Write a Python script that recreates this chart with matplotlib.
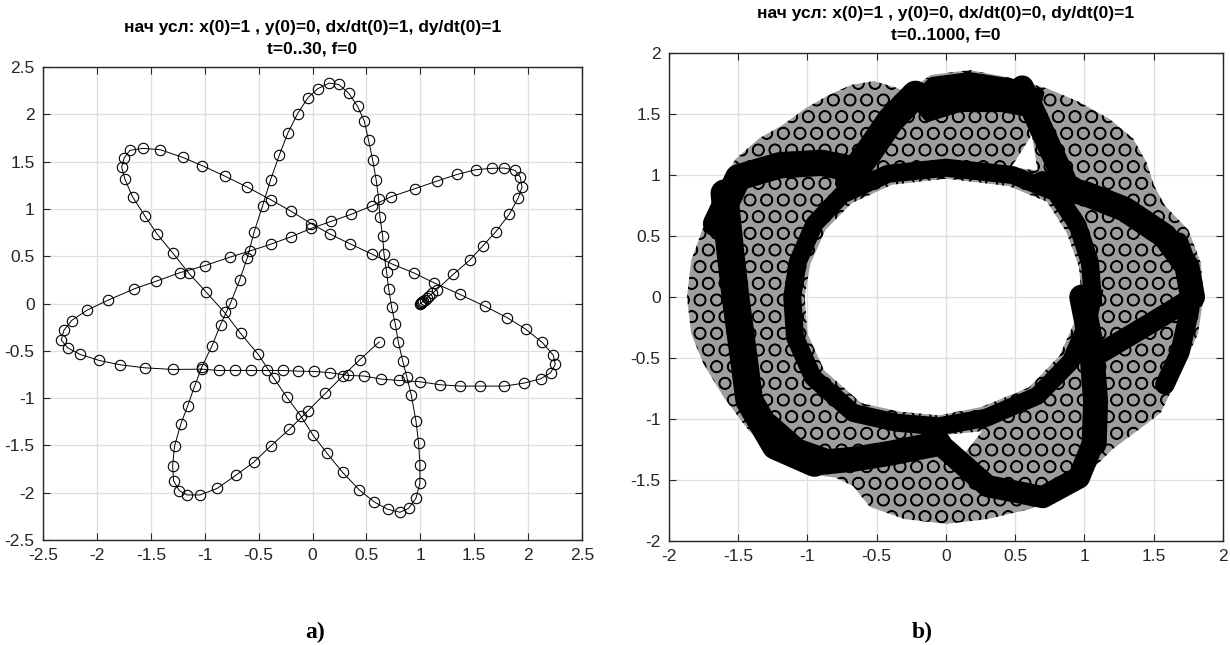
import numpy as np
import matplotlib
matplotlib.use("Agg")
import matplotlib.pyplot as plt
from matplotlib.path import Path
from matplotlib.patches import PathPatch, Polygon

plt.rcParams['font.family'] = ['Liberation Sans Narrow', 'Liberation Sans', 'DejaVu Sans']
plt.rcParams['axes.unicode_minus'] = False
plt.rcParams['hatch.linewidth'] = 1.0

# ---- panel a: points (t=0..30) ----
xa = [1.000, 1.002, 1.005, 1.010, 1.017, 1.027, 1.040, 1.058, 1.082, 1.112, 1.150,
      1.306, 1.457, 1.581, 1.701, 1.825, 1.909, 1.943, 1.927, 1.878, 1.776, 1.664,
      1.516, 1.343, 1.157, 0.950, 0.730, 0.548, 0.359, 0.174, -0.010,
      -0.203, -0.389, -0.578, -0.769, -0.998, -1.227, -1.450, -1.654, -1.898, -2.093,
      -2.235, -2.306, -2.331, -2.272, -2.155, -1.978, -1.784, -1.555, -1.298, -1.026,
      -0.871, -0.723, -0.575, -0.423, -0.275, -0.139, 0.013, 0.165, 0.325, 0.480,
      0.635, 0.798, 0.996, 1.185, 1.367, 1.550, 1.779, 1.964, 2.116, 2.208, 2.252,
      2.233, 2.131, 1.977, 1.803, 1.596, 1.364, 1.129, 0.938, 0.743, 0.548, 0.350,
      0.165, -0.012, -0.203, -0.389, -0.609, -0.816, -1.023, -1.205, -1.413, -1.576,
      -1.694, -1.747, -1.771, -1.740, -1.669, -1.555, -1.440, -1.298, -1.150, -0.989,
      -0.816, -0.667, -0.503, -0.361, -0.241, -0.108, 0.001, 0.130, 0.279, 0.434,
      0.573, 0.696, 0.811, 0.891, 0.959, 0.996, 0.996, 0.984, 0.959, 0.916, 0.876,
      0.836, 0.795, 0.768, 0.734, 0.706, 0.687, 0.662, 0.650, 0.625, 0.613, 0.591,
      0.557, 0.520, 0.480, 0.418, 0.335, 0.242, 0.155, 0.047, -0.043, -0.139, -0.228,
      -0.309, -0.389, -0.463, -0.541, -0.605, -0.677, -0.760, -0.853, -0.933, -1.026,
      -1.094, -1.159, -1.221, -1.280, -1.298, -1.289, -1.236, -1.162, -1.045, -0.884,
      -0.708, -0.547, -0.389, -0.216, -0.043, 0.118, 0.279, 0.440, 0.619]
ya = [0.000, 0.002, 0.005, 0.010, 0.017, 0.027, 0.040, 0.058, 0.080, 0.108, 0.145,
      0.309, 0.457, 0.612, 0.760, 0.943, 1.119, 1.232, 1.337, 1.408, 1.432, 1.429,
      1.415, 1.365, 1.295, 1.214, 1.130, 1.031, 0.943, 0.869, 0.795,
      0.704, 0.626, 0.556, 0.489, 0.401, 0.327, 0.236, 0.155, 0.035, -0.071,
      -0.180, -0.282, -0.387, -0.468, -0.539, -0.602, -0.648, -0.680, -0.697, -0.694,
      -0.708, -0.708, -0.708, -0.708, -0.708, -0.715, -0.718, -0.732, -0.760, -0.767,
      -0.799, -0.813, -0.827, -0.859, -0.873, -0.873, -0.873, -0.841, -0.796, -0.732, -0.644,
      -0.546, -0.412, -0.271, -0.148, -0.028, 0.098, 0.218, 0.324, 0.415, 0.524, 0.630,
      0.732, 0.844, 0.978, 1.098, 1.232, 1.348, 1.457, 1.545, 1.626, 1.640,
      1.619, 1.541, 1.443, 1.313, 1.126, 0.925, 0.732, 0.535, 0.324, 0.123,
      -0.095, -0.317, -0.539, -0.785, -0.986, -1.190, -1.387, -1.577, -1.785, -1.971,
      -2.098, -2.175, -2.207, -2.165, -2.059, -1.901, -1.707, -1.479, -1.239, -0.968, -0.782,
      -0.606, -0.405, -0.218, -0.042, 0.158, 0.334, 0.528, 0.718, 0.915, 1.105, 1.302,
      1.520, 1.724, 1.929, 2.083, 2.224, 2.316, 2.330, 2.270, 2.175, 2.006, 1.805,
      1.566, 1.309, 1.035, 0.760, 0.485, 0.246, 0.007, -0.222, -0.447, -0.669,
      -0.873, -1.084, -1.271, -1.507, -1.718, -1.876, -1.978, -2.024, -2.024, -1.954,
      -1.813, -1.679, -1.507, -1.331, -1.134, -0.951, -0.768, -0.592, -0.405]

# ---- panel b (t=0..1000): too many points to read one by one, so the outline of the
# covered ring, the dark (overlapping) bands and the small empty gaps are read instead ----
outer_b = [(1.86, 0.0), (1.84, 0.28), (1.75, 0.55), (1.58, 0.75), (1.5, 0.92), (1.45, 1.1),
           (1.35, 1.3), (1.18, 1.46), (0.96, 1.6), (0.73, 1.71), (0.45, 1.8), (0.17, 1.86),
           (-0.11, 1.82), (-0.28, 1.68), (-0.37, 1.72), (-0.52, 1.77), (-0.68, 1.74),
           (-0.84, 1.66), (-1.01, 1.55), (-1.18, 1.41), (-1.35, 1.3), (-1.52, 1.13),
           (-1.66, 0.86), (-1.75, 0.58), (-1.84, 0.3), (-1.87, 0.0), (-1.84, -0.3),
           (-1.75, -0.55), (-1.6, -0.83), (-1.42, -1.1), (-1.2, -1.33), (-1.0, -1.45),
           (-0.8, -1.48), (-0.67, -1.55), (-0.55, -1.72), (-0.3, -1.82), (0.0, -1.86),
           (0.3, -1.82), (0.6, -1.74), (0.88, -1.62), (1.05, -1.42), (1.2, -1.25),
           (1.4, -1.08), (1.55, -0.95), (1.7, -0.6), (1.82, -0.3)]
hole_b = [(0.98, 0.0), (0.96, 0.25), (0.87, 0.53), (0.73, 0.78), (0.45, 0.91), (0.0, 0.97),
          (-0.39, 0.92), (-0.68, 0.77), (-0.87, 0.55), (-0.98, 0.27), (-1.02, 0.0),
          (-1.0, -0.3), (-0.88, -0.6), (-0.61, -0.87), (-0.33, -0.94), (-0.05, -0.97),
          (0.26, -0.9), (0.6, -0.74), (0.82, -0.48), (0.93, -0.2)]
hole_rim = [(1.06, 0.0), (1.04, 0.28), (0.95, 0.59), (0.79, 0.86), (0.48, 1.0), (0.0, 1.06),
            (-0.42, 1.01), (-0.75, 0.84), (-0.95, 0.6), (-1.07, 0.29), (-1.11, 0.0),
            (-1.09, -0.33), (-0.96, -0.66), (-0.67, -0.95), (-0.36, -1.03), (-0.05, -1.06),
            (0.29, -0.99), (0.66, -0.81), (0.9, -0.53), (1.02, -0.22), (1.06, 0.0)]
top_cap = [(-0.24, 1.62), (-0.1, 1.77), (0.17, 1.81), (0.45, 1.76), (0.68, 1.67), (0.64, 1.5),
           (0.4, 1.55), (0.1, 1.55), (-0.13, 1.47)]
low_left_cap = [(-1.42, -0.9), (-1.37, -1.08), (-1.18, -1.29), (-1.0, -1.4), (-0.85, -1.42),
                (-0.85, -1.28), (-1.05, -1.2), (-1.25, -1.0)]
band_left_top = [(-1.66, 0.6), (-1.5, 0.98), (-1.2, 1.08), (-0.9, 1.1), (-0.68, 1.05)]
band_top_left = [(-0.7, 0.97), (-0.55, 1.2), (-0.4, 1.45), (-0.22, 1.66)]
band_top_right = [(0.55, 1.72), (0.66, 1.45), (0.76, 1.2), (0.86, 0.95)]
band_right_up = [(0.7, 0.93), (1.0, 0.85), (1.29, 0.72), (1.58, 0.5), (1.74, 0.25), (1.78, 0.0)]
band_right_edge = [(1.68, 0.45), (1.76, 0.2), (1.76, -0.1), (1.69, -0.45), (1.58, -0.72)]
band_left = [(-1.6, 0.85), (-1.56, 0.4), (-1.52, 0.0), (-1.46, -0.5), (-1.42, -0.85),
             (-1.23, -1.22), (-0.95, -1.36)]
band_bottom_left = [(-0.95, -1.36), (-0.67, -1.33), (-0.4, -1.28), (-0.05, -1.2)]
band_bottom = [(-0.05, -1.2), (0.3, -1.55), (0.7, -1.64), (0.96, -1.48), (1.06, -1.2)]
band_right_down = [(0.98, 0.0), (1.05, -0.4), (1.08, -0.85), (1.07, -1.2)]
band_right_low = [(1.1, -0.47), (1.5, -0.2), (1.76, -0.02)]
gap_top = [(0.47, 1.06), (0.66, 1.04), (0.62, 1.33)]
gap_bottom = [(0.0, -1.13), (0.26, -1.1), (0.12, -1.3)]

title_a = 'нач усл: x(0)=1 , y(0)=0, dx/dt(0)=1, dy/dt(0)=1\nt=0..30, f=0'
title_b = 'нач усл: x(0)=1 , y(0)=0, dx/dt(0)=0, dy/dt(0)=1\nt=0..1000, f=0'

INK = '#262626'


def style(ax, lim, step):
    ticks = np.arange(-lim, lim + step / 2, step)
    ax.set_xlim(-lim, lim)
    ax.set_ylim(-lim, lim)
    ax.set_xticks(ticks)
    ax.set_yticks(ticks)
    ax.set_xticklabels(['%g' % t for t in ticks])
    ax.set_yticklabels(['%g' % t for t in ticks])
    ax.grid(True, color='#dedede', lw=0.9)
    ax.set_axisbelow(True)
    ax.tick_params(direction='in', top=True, right=True, length=5, width=0.8,
                   color=INK, labelcolor=INK, labelsize=12.5, pad=6)
    for s in ax.spines.values():
        s.set_color(INK)
        s.set_linewidth(1.0)


fig = plt.figure(figsize=(12.3, 6.45), dpi=100)
ax1 = fig.add_axes([0.035, 0.1628, 0.4382, 0.7333])
ax2 = fig.add_axes([0.5439, 0.1612, 0.4504, 0.7566])

ax1.plot(xa, ya, '-o', color='k', lw=0.7, ms=7.5, mfc='none', mew=0.8)
style(ax1, 2.5, 0.5)
ax1.set_title(title_a, fontsize=12.5, fontweight='bold', linespacing=1.5, pad=10)

verts = outer_b + [outer_b[0]] + hole_b[::-1] + [hole_b[-1]]
codes = ([Path.MOVETO] + [Path.LINETO] * (len(outer_b) - 1) + [Path.CLOSEPOLY]
         + [Path.MOVETO] + [Path.LINETO] * (len(hole_b) - 1) + [Path.CLOSEPOLY])
ax2.add_patch(PathPatch(Path(verts, codes), facecolor='#9e9e9e', edgecolor='k',
                        hatch='O', lw=0))
for gap in (gap_top, gap_bottom):
    ax2.add_patch(Polygon(gap, closed=True, facecolor='white', edgecolor='none'))
for cap in (top_cap, low_left_cap):
    ax2.add_patch(Polygon(cap, closed=True, facecolor='k', edgecolor='k', lw=6,
                          joinstyle='round'))
ax2.plot(*zip(*hole_rim), color='k', lw=13, solid_joinstyle='round')
for band, w in ((band_left_top, 19), (band_top_left, 20), (band_top_right, 17),
                (band_right_up, 18), (band_right_edge, 14), (band_left, 20),
                (band_bottom_left, 18), (band_bottom, 16), (band_right_down, 18),
                (band_right_low, 15)):
    ax2.plot(*zip(*band), color='k', lw=w, solid_capstyle='round', solid_joinstyle='round')
style(ax2, 2, 0.5)
ax2.set_title(title_b, fontsize=12.5, fontweight='bold', linespacing=1.5, pad=10)

fig.text(0.256, 0.02, 'a)', ha='center', va='center', fontsize=17, fontweight='bold',
         family=['Liberation Serif', 'DejaVu Serif'])
fig.text(0.75, 0.02, 'b)', ha='center', va='center', fontsize=17, fontweight='bold',
         family=['Liberation Serif', 'DejaVu Serif'])

fig.savefig('out.png', dpi=100)
